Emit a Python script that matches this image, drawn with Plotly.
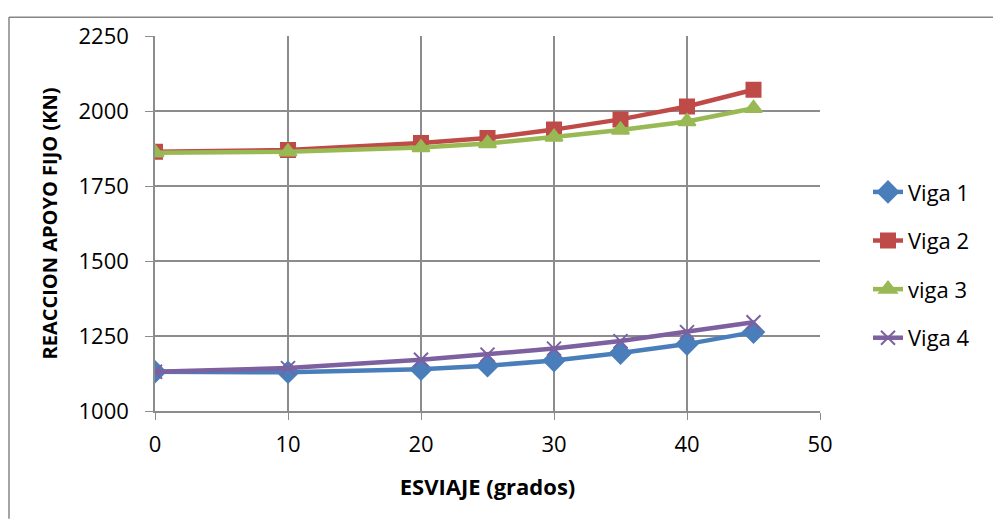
import plotly.graph_objects as go

esviaje = [0, 10, 20, 25, 30, 35, 40, 45]
viga1 = [1131, 1129, 1139, 1151, 1168, 1193, 1223, 1263]
viga2 = [1864, 1870, 1893, 1910, 1938, 1972, 2015, 2071]
viga3 = [1861, 1864, 1878, 1892, 1913, 1937, 1965, 2009]
viga4 = [1131, 1143, 1171, 1188, 1208, 1233, 1263, 1296]

series = [
    ("Viga 1", viga1, "#4A7EBB", "diamond", 16),
    ("Viga 2", viga2, "#BE4B48", "square", 14),
    ("viga 3", viga3, "#98B954", "triangle-up", 15),
    ("Viga 4", viga4, "#7D60A0", "x-thin", 14),
]

fig = go.Figure()
for i, (name, vals, color, sym, size) in enumerate(series):
    fig.add_trace(go.Scatter(
        x=esviaje, y=vals, name=name, mode="lines+markers",
        legendgroup=f"g{i}",
        line=dict(color=color, width=4.5),
        marker=dict(symbol=sym, size=size, color=color,
                    line=dict(color=color, width=2)),
    ))

font = "Open Sans, Noto Sans, sans-serif"
# page body has an 8px offset; coordinates below are figure coordinates
OFF = 8
W, H = 1001 - OFF, 521 - OFF
L, R, T, B = 155 - OFF, 820 - OFF, 28 - OFF, 411 - OFF
pw, ph = R - L, B - T

def px(x):
    return (x - OFF - L) / pw

def py(y):
    return (B - (y - OFF)) / ph

frame = dict(color="#868686", width=1.5)
# left and top edges of the outer chart frame (right/bottom cropped in reference)
fig.add_shape(type="line", xref="paper", yref="paper",
              x0=px(9), x1=px(9), y0=py(521), y1=py(8.5), line=frame)
fig.add_shape(type="line", xref="paper", yref="paper",
              x0=px(9), x1=px(1001), y0=py(8.8), y1=py(8.8), line=frame)

fig.update_layout(
    width=W, height=H,
    margin=dict(l=L, r=W - R, t=T, b=H - B),
    paper_bgcolor="white", plot_bgcolor="white",
    font=dict(family=font, size=18, color="black"),
    showlegend=True,
    legend=dict(x=px(868), y=py(166), xanchor="left", yanchor="top",
                font=dict(size=22), traceorder="grouped", tracegroupgap=17,
                bgcolor="rgba(0,0,0,0)"),
)
fig.update_xaxes(
    range=[0, 50], tickvals=[0, 10, 20, 30, 40, 50],
    showgrid=True, gridcolor="#8C8C8C", gridwidth=1.5,
    showline=True, linecolor="#8C8C8C", linewidth=1.5,
    ticks="outside", ticklen=7, tickcolor="#8C8C8C",
    tickfont=dict(size=22), zeroline=False, ticklabelstandoff=6,
    title=dict(text="<b>ESVIAJE (grados)</b>", font=dict(size=22), standoff=22),
)
fig.update_yaxes(
    range=[1000, 2250], tickvals=[1000, 1250, 1500, 1750, 2000, 2250],
    showgrid=True, gridcolor="#8C8C8C", gridwidth=1.5,
    showline=True, linecolor="#8C8C8C", linewidth=1.5,
    ticks="outside", ticklen=8, tickcolor="#8C8C8C",
    tickfont=dict(size=22), zeroline=False, ticklabelstandoff=12,
    title=dict(text="<b>REACCION APOYO FIJO (KN)</b>", font=dict(size=20), standoff=16),
)

fig.write_html("out.html")
